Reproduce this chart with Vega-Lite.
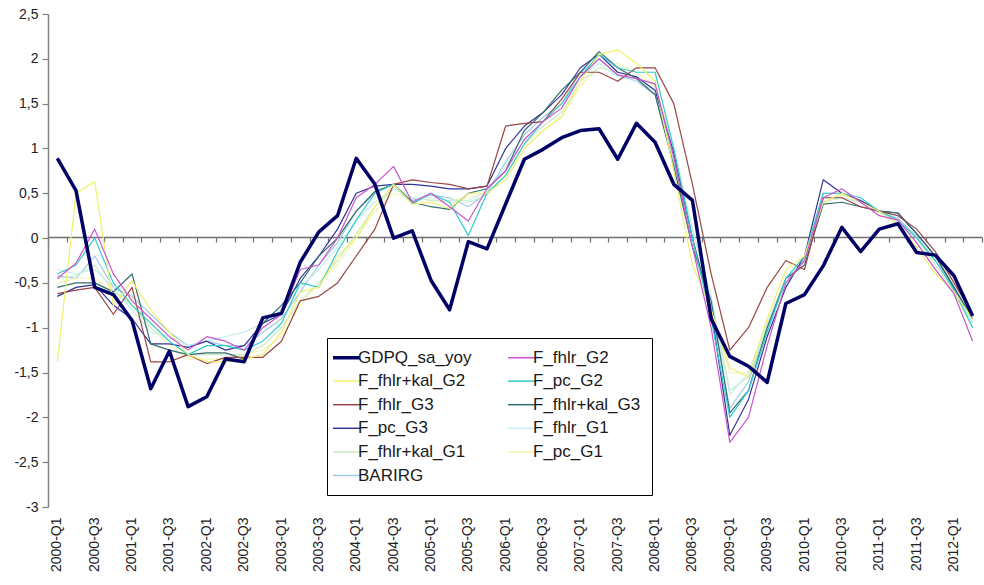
{
  "$schema": "https://vega.github.io/schema/vega-lite/v6.json",
  "width": 934,
  "height": 493,
  "autosize": {"type": "none"},
  "padding": {"left": 48, "top": 14, "right": 2, "bottom": 78},
  "background": "white",
  "config": {
    "view": {"stroke": null},
    "font": "Liberation Sans",
    "axis": {"labelFont": "Liberation Sans", "labelColor": "#222222", "grid": false, "title": null}
  },
  "data": {
    "values": [
      {"q":"2000-Q1","GDPQ_sa_yoy":0.89,"F_fhlr_G2":-0.45,"F_fhlr+kal_G2":-1.38,"F_pc_G2":-0.4,"F_fhlr_G3":-0.62,"F_fhlr+kal_G3":-0.55,"F_pc_G3":-0.65,"F_fhlr_G1":-0.35,"F_fhlr+kal_G1":-0.45,"F_pc_G1":-0.5,"BARIRG":-0.42},
      {"q":"2000-Q2","GDPQ_sa_yoy":0.53,"F_fhlr_G2":-0.28,"F_fhlr+kal_G2":0.5,"F_pc_G2":-0.3,"F_fhlr_G3":-0.58,"F_fhlr+kal_G3":-0.5,"F_pc_G3":-0.55,"F_fhlr_G1":-0.4,"F_fhlr+kal_G1":-0.42,"F_pc_G1":-0.45,"BARIRG":-0.45},
      {"q":"2000-Q3","GDPQ_sa_yoy":-0.55,"F_fhlr_G2":0.1,"F_fhlr+kal_G2":0.63,"F_pc_G2":0.0,"F_fhlr_G3":-0.55,"F_fhlr+kal_G3":-0.5,"F_pc_G3":-0.52,"F_fhlr_G1":-0.35,"F_fhlr+kal_G1":-0.3,"F_pc_G1":-0.45,"BARIRG":-0.2},
      {"q":"2000-Q4","GDPQ_sa_yoy":-0.63,"F_fhlr_G2":-0.4,"F_fhlr+kal_G2":-0.75,"F_pc_G2":-0.5,"F_fhlr_G3":-0.85,"F_fhlr+kal_G3":-0.6,"F_pc_G3":-0.75,"F_fhlr_G1":-0.55,"F_fhlr+kal_G1":-0.6,"F_pc_G1":-0.6,"BARIRG":-0.55},
      {"q":"2001-Q1","GDPQ_sa_yoy":-0.92,"F_fhlr_G2":-0.7,"F_fhlr+kal_G2":-0.48,"F_pc_G2":-0.75,"F_fhlr_G3":-0.55,"F_fhlr+kal_G3":-0.4,"F_pc_G3":-0.9,"F_fhlr_G1":-0.8,"F_fhlr+kal_G1":-0.75,"F_pc_G1":-0.7,"BARIRG":-0.65},
      {"q":"2001-Q2","GDPQ_sa_yoy":-1.68,"F_fhlr_G2":-0.9,"F_fhlr+kal_G2":-0.8,"F_pc_G2":-0.95,"F_fhlr_G3":-1.38,"F_fhlr+kal_G3":-1.18,"F_pc_G3":-1.18,"F_fhlr_G1":-1.05,"F_fhlr+kal_G1":-1.0,"F_pc_G1":-1.0,"BARIRG":-0.85},
      {"q":"2001-Q3","GDPQ_sa_yoy":-1.26,"F_fhlr_G2":-1.1,"F_fhlr+kal_G2":-1.05,"F_pc_G2":-1.15,"F_fhlr_G3":-1.38,"F_fhlr+kal_G3":-1.25,"F_pc_G3":-1.18,"F_fhlr_G1":-1.1,"F_fhlr+kal_G1":-1.15,"F_pc_G1":-1.2,"BARIRG":-1.05},
      {"q":"2001-Q4","GDPQ_sa_yoy":-1.88,"F_fhlr_G2":-1.25,"F_fhlr+kal_G2":-1.3,"F_pc_G2":-1.3,"F_fhlr_G3":-1.3,"F_fhlr+kal_G3":-1.3,"F_pc_G3":-1.22,"F_fhlr_G1":-1.2,"F_fhlr+kal_G1":-1.3,"F_pc_G1":-1.35,"BARIRG":-1.2},
      {"q":"2002-Q1","GDPQ_sa_yoy":-1.77,"F_fhlr_G2":-1.1,"F_fhlr+kal_G2":-1.38,"F_pc_G2":-1.2,"F_fhlr_G3":-1.4,"F_fhlr+kal_G3":-1.28,"F_pc_G3":-1.15,"F_fhlr_G1":-1.15,"F_fhlr+kal_G1":-1.3,"F_pc_G1":-1.35,"BARIRG":-1.15},
      {"q":"2002-Q2","GDPQ_sa_yoy":-1.35,"F_fhlr_G2":-1.15,"F_fhlr+kal_G2":-1.38,"F_pc_G2":-1.2,"F_fhlr_G3":-1.33,"F_fhlr+kal_G3":-1.28,"F_pc_G3":-1.25,"F_fhlr_G1":-1.1,"F_fhlr+kal_G1":-1.3,"F_pc_G1":-1.35,"BARIRG":-1.2},
      {"q":"2002-Q3","GDPQ_sa_yoy":-1.38,"F_fhlr_G2":-1.25,"F_fhlr+kal_G2":-1.35,"F_pc_G2":-1.25,"F_fhlr_G3":-1.33,"F_fhlr+kal_G3":-1.35,"F_pc_G3":-1.2,"F_fhlr_G1":-1.05,"F_fhlr+kal_G1":-1.3,"F_pc_G1":-1.3,"BARIRG":-1.2},
      {"q":"2002-Q4","GDPQ_sa_yoy":-0.89,"F_fhlr_G2":-1.0,"F_fhlr+kal_G2":-1.3,"F_pc_G2":-1.15,"F_fhlr_G3":-1.33,"F_fhlr+kal_G3":-0.95,"F_pc_G3":-0.95,"F_fhlr_G1":-0.95,"F_fhlr+kal_G1":-1.2,"F_pc_G1":-1.25,"BARIRG":-1.05},
      {"q":"2003-Q1","GDPQ_sa_yoy":-0.84,"F_fhlr_G2":-0.85,"F_fhlr+kal_G2":-1.05,"F_pc_G2":-0.95,"F_fhlr_G3":-1.15,"F_fhlr+kal_G3":-0.75,"F_pc_G3":-0.85,"F_fhlr_G1":-0.8,"F_fhlr+kal_G1":-1.0,"F_pc_G1":-1.1,"BARIRG":-0.9},
      {"q":"2003-Q2","GDPQ_sa_yoy":-0.27,"F_fhlr_G2":-0.35,"F_fhlr+kal_G2":-0.6,"F_pc_G2":-0.5,"F_fhlr_G3":-0.7,"F_fhlr+kal_G3":-0.5,"F_pc_G3":-0.45,"F_fhlr_G1":-0.55,"F_fhlr+kal_G1":-0.7,"F_pc_G1":-0.75,"BARIRG":-0.6},
      {"q":"2003-Q3","GDPQ_sa_yoy":0.07,"F_fhlr_G2":-0.3,"F_fhlr+kal_G2":-0.55,"F_pc_G2":-0.55,"F_fhlr_G3":-0.65,"F_fhlr+kal_G3":-0.2,"F_pc_G3":-0.2,"F_fhlr_G1":-0.35,"F_fhlr+kal_G1":-0.5,"F_pc_G1":-0.5,"BARIRG":-0.3},
      {"q":"2003-Q4","GDPQ_sa_yoy":0.25,"F_fhlr_G2":0.0,"F_fhlr+kal_G2":-0.2,"F_pc_G2":-0.15,"F_fhlr_G3":-0.5,"F_fhlr+kal_G3":0.0,"F_pc_G3":0.1,"F_fhlr_G1":-0.1,"F_fhlr+kal_G1":-0.25,"F_pc_G1":-0.3,"BARIRG":-0.05},
      {"q":"2004-Q1","GDPQ_sa_yoy":0.89,"F_fhlr_G2":0.45,"F_fhlr+kal_G2":0.0,"F_pc_G2":0.2,"F_fhlr_G3":-0.2,"F_fhlr+kal_G3":0.3,"F_pc_G3":0.5,"F_fhlr_G1":0.2,"F_fhlr+kal_G1":0.05,"F_pc_G1":0.0,"BARIRG":0.3},
      {"q":"2004-Q2","GDPQ_sa_yoy":0.6,"F_fhlr_G2":0.6,"F_fhlr+kal_G2":0.35,"F_pc_G2":0.5,"F_fhlr_G3":0.1,"F_fhlr+kal_G3":0.52,"F_pc_G3":0.58,"F_fhlr_G1":0.4,"F_fhlr+kal_G1":0.35,"F_pc_G1":0.3,"BARIRG":0.5},
      {"q":"2004-Q3","GDPQ_sa_yoy":0.0,"F_fhlr_G2":0.8,"F_fhlr+kal_G2":0.6,"F_pc_G2":0.6,"F_fhlr_G3":0.6,"F_fhlr+kal_G3":0.6,"F_pc_G3":0.6,"F_fhlr_G1":0.55,"F_fhlr+kal_G1":0.55,"F_pc_G1":0.5,"BARIRG":0.6},
      {"q":"2004-Q4","GDPQ_sa_yoy":0.08,"F_fhlr_G2":0.4,"F_fhlr+kal_G2":0.38,"F_pc_G2":0.38,"F_fhlr_G3":0.65,"F_fhlr+kal_G3":0.4,"F_pc_G3":0.6,"F_fhlr_G1":0.45,"F_fhlr+kal_G1":0.45,"F_pc_G1":0.45,"BARIRG":0.42},
      {"q":"2005-Q1","GDPQ_sa_yoy":-0.47,"F_fhlr_G2":0.5,"F_fhlr+kal_G2":0.4,"F_pc_G2":0.5,"F_fhlr_G3":0.62,"F_fhlr+kal_G3":0.35,"F_pc_G3":0.58,"F_fhlr_G1":0.45,"F_fhlr+kal_G1":0.42,"F_pc_G1":0.42,"BARIRG":0.48},
      {"q":"2005-Q2","GDPQ_sa_yoy":-0.8,"F_fhlr_G2":0.35,"F_fhlr+kal_G2":0.33,"F_pc_G2":0.4,"F_fhlr_G3":0.6,"F_fhlr+kal_G3":0.32,"F_pc_G3":0.55,"F_fhlr_G1":0.42,"F_fhlr+kal_G1":0.4,"F_pc_G1":0.42,"BARIRG":0.45},
      {"q":"2005-Q3","GDPQ_sa_yoy":-0.04,"F_fhlr_G2":0.19,"F_fhlr+kal_G2":0.5,"F_pc_G2":0.03,"F_fhlr_G3":0.55,"F_fhlr+kal_G3":0.5,"F_pc_G3":0.55,"F_fhlr_G1":0.42,"F_fhlr+kal_G1":0.4,"F_pc_G1":0.45,"BARIRG":0.35},
      {"q":"2005-Q4","GDPQ_sa_yoy":-0.12,"F_fhlr_G2":0.55,"F_fhlr+kal_G2":0.5,"F_pc_G2":0.5,"F_fhlr_G3":0.58,"F_fhlr+kal_G3":0.55,"F_pc_G3":0.58,"F_fhlr_G1":0.52,"F_fhlr+kal_G1":0.48,"F_pc_G1":0.5,"BARIRG":0.5},
      {"q":"2006-Q1","GDPQ_sa_yoy":0.38,"F_fhlr_G2":0.75,"F_fhlr+kal_G2":0.65,"F_pc_G2":0.7,"F_fhlr_G3":1.25,"F_fhlr+kal_G3":0.75,"F_pc_G3":1.0,"F_fhlr_G1":0.8,"F_fhlr+kal_G1":0.7,"F_pc_G1":0.7,"BARIRG":0.85},
      {"q":"2006-Q2","GDPQ_sa_yoy":0.88,"F_fhlr_G2":1.1,"F_fhlr+kal_G2":1.0,"F_pc_G2":1.05,"F_fhlr_G3":1.28,"F_fhlr+kal_G3":1.2,"F_pc_G3":1.25,"F_fhlr_G1":1.1,"F_fhlr+kal_G1":1.05,"F_pc_G1":1.0,"BARIRG":1.15},
      {"q":"2006-Q3","GDPQ_sa_yoy":0.99,"F_fhlr_G2":1.3,"F_fhlr+kal_G2":1.2,"F_pc_G2":1.3,"F_fhlr_G3":1.3,"F_fhlr+kal_G3":1.4,"F_pc_G3":1.4,"F_fhlr_G1":1.3,"F_fhlr+kal_G1":1.25,"F_pc_G1":1.2,"BARIRG":1.35},
      {"q":"2006-Q4","GDPQ_sa_yoy":1.12,"F_fhlr_G2":1.45,"F_fhlr+kal_G2":1.35,"F_pc_G2":1.5,"F_fhlr_G3":1.55,"F_fhlr+kal_G3":1.65,"F_pc_G3":1.6,"F_fhlr_G1":1.5,"F_fhlr+kal_G1":1.4,"F_pc_G1":1.35,"BARIRG":1.5},
      {"q":"2007-Q1","GDPQ_sa_yoy":1.2,"F_fhlr_G2":1.8,"F_fhlr+kal_G2":1.75,"F_pc_G2":1.8,"F_fhlr_G3":1.85,"F_fhlr+kal_G3":1.85,"F_pc_G3":1.9,"F_fhlr_G1":1.8,"F_fhlr+kal_G1":1.75,"F_pc_G1":1.7,"BARIRG":1.85},
      {"q":"2007-Q2","GDPQ_sa_yoy":1.22,"F_fhlr_G2":2.0,"F_fhlr+kal_G2":2.05,"F_pc_G2":2.05,"F_fhlr_G3":1.85,"F_fhlr+kal_G3":2.08,"F_pc_G3":2.05,"F_fhlr_G1":1.95,"F_fhlr+kal_G1":1.9,"F_pc_G1":1.9,"BARIRG":2.0},
      {"q":"2007-Q3","GDPQ_sa_yoy":0.88,"F_fhlr_G2":1.82,"F_fhlr+kal_G2":2.1,"F_pc_G2":1.9,"F_fhlr_G3":1.75,"F_fhlr+kal_G3":1.9,"F_pc_G3":1.85,"F_fhlr_G1":1.8,"F_fhlr+kal_G1":1.85,"F_pc_G1":1.95,"BARIRG":1.82},
      {"q":"2007-Q4","GDPQ_sa_yoy":1.28,"F_fhlr_G2":1.78,"F_fhlr+kal_G2":1.95,"F_pc_G2":1.85,"F_fhlr_G3":1.9,"F_fhlr+kal_G3":1.78,"F_pc_G3":1.8,"F_fhlr_G1":1.75,"F_fhlr+kal_G1":1.8,"F_pc_G1":1.85,"BARIRG":1.75},
      {"q":"2008-Q1","GDPQ_sa_yoy":1.07,"F_fhlr_G2":1.72,"F_fhlr+kal_G2":1.75,"F_pc_G2":1.85,"F_fhlr_G3":1.9,"F_fhlr+kal_G3":1.6,"F_pc_G3":1.65,"F_fhlr_G1":1.65,"F_fhlr+kal_G1":1.7,"F_pc_G1":1.7,"BARIRG":1.6},
      {"q":"2008-Q2","GDPQ_sa_yoy":0.6,"F_fhlr_G2":0.9,"F_fhlr+kal_G2":0.75,"F_pc_G2":1.0,"F_fhlr_G3":1.5,"F_fhlr+kal_G3":0.8,"F_pc_G3":0.95,"F_fhlr_G1":0.9,"F_fhlr+kal_G1":1.0,"F_pc_G1":0.8,"BARIRG":0.85},
      {"q":"2008-Q3","GDPQ_sa_yoy":0.42,"F_fhlr_G2":-0.1,"F_fhlr+kal_G2":-0.3,"F_pc_G2":0.0,"F_fhlr_G3":0.6,"F_fhlr+kal_G3":-0.1,"F_pc_G3":0.0,"F_fhlr_G1":0.1,"F_fhlr+kal_G1":0.1,"F_pc_G1":-0.1,"BARIRG":0.0},
      {"q":"2008-Q4","GDPQ_sa_yoy":-0.9,"F_fhlr_G2":-1.0,"F_fhlr+kal_G2":-0.8,"F_pc_G2":-0.9,"F_fhlr_G3":-0.4,"F_fhlr+kal_G3":-0.7,"F_pc_G3":-0.8,"F_fhlr_G1":-0.7,"F_fhlr+kal_G1":-0.65,"F_pc_G1":-0.8,"BARIRG":-0.8},
      {"q":"2009-Q1","GDPQ_sa_yoy":-1.32,"F_fhlr_G2":-2.28,"F_fhlr+kal_G2":-1.45,"F_pc_G2":-2.0,"F_fhlr_G3":-1.25,"F_fhlr+kal_G3":-1.95,"F_pc_G3":-2.2,"F_fhlr_G1":-1.75,"F_fhlr+kal_G1":-1.7,"F_pc_G1":-1.5,"BARIRG":-1.9},
      {"q":"2009-Q2","GDPQ_sa_yoy":-1.43,"F_fhlr_G2":-2.0,"F_fhlr+kal_G2":-1.55,"F_pc_G2":-1.7,"F_fhlr_G3":-1.0,"F_fhlr+kal_G3":-1.7,"F_pc_G3":-1.8,"F_fhlr_G1":-1.5,"F_fhlr+kal_G1":-1.55,"F_pc_G1":-1.5,"BARIRG":-1.6},
      {"q":"2009-Q3","GDPQ_sa_yoy":-1.61,"F_fhlr_G2":-1.2,"F_fhlr+kal_G2":-0.9,"F_pc_G2":-1.05,"F_fhlr_G3":-0.55,"F_fhlr+kal_G3":-1.0,"F_pc_G3":-1.1,"F_fhlr_G1":-0.95,"F_fhlr+kal_G1":-1.0,"F_pc_G1":-0.95,"BARIRG":-1.0},
      {"q":"2009-Q4","GDPQ_sa_yoy":-0.73,"F_fhlr_G2":-0.5,"F_fhlr+kal_G2":-0.35,"F_pc_G2":-0.45,"F_fhlr_G3":-0.25,"F_fhlr+kal_G3":-0.45,"F_pc_G3":-0.55,"F_fhlr_G1":-0.45,"F_fhlr+kal_G1":-0.5,"F_pc_G1":-0.45,"BARIRG":-0.5},
      {"q":"2010-Q1","GDPQ_sa_yoy":-0.63,"F_fhlr_G2":-0.25,"F_fhlr+kal_G2":-0.2,"F_pc_G2":-0.2,"F_fhlr_G3":-0.35,"F_fhlr+kal_G3":-0.3,"F_pc_G3":-0.2,"F_fhlr_G1":-0.25,"F_fhlr+kal_G1":-0.25,"F_pc_G1":-0.3,"BARIRG":-0.25},
      {"q":"2010-Q2","GDPQ_sa_yoy":-0.31,"F_fhlr_G2":0.45,"F_fhlr+kal_G2":0.4,"F_pc_G2":0.5,"F_fhlr_G3":0.45,"F_fhlr+kal_G3":0.38,"F_pc_G3":0.65,"F_fhlr_G1":0.45,"F_fhlr+kal_G1":0.4,"F_pc_G1":0.4,"BARIRG":0.5},
      {"q":"2010-Q3","GDPQ_sa_yoy":0.12,"F_fhlr_G2":0.55,"F_fhlr+kal_G2":0.5,"F_pc_G2":0.5,"F_fhlr_G3":0.45,"F_fhlr+kal_G3":0.4,"F_pc_G3":0.5,"F_fhlr_G1":0.45,"F_fhlr+kal_G1":0.45,"F_pc_G1":0.48,"BARIRG":0.5},
      {"q":"2010-Q4","GDPQ_sa_yoy":-0.15,"F_fhlr_G2":0.4,"F_fhlr+kal_G2":0.4,"F_pc_G2":0.45,"F_fhlr_G3":0.35,"F_fhlr+kal_G3":0.35,"F_pc_G3":0.42,"F_fhlr_G1":0.4,"F_fhlr+kal_G1":0.4,"F_pc_G1":0.42,"BARIRG":0.42},
      {"q":"2011-Q1","GDPQ_sa_yoy":0.1,"F_fhlr_G2":0.25,"F_fhlr+kal_G2":0.3,"F_pc_G2":0.3,"F_fhlr_G3":0.3,"F_fhlr+kal_G3":0.3,"F_pc_G3":0.3,"F_fhlr_G1":0.3,"F_fhlr+kal_G1":0.28,"F_pc_G1":0.3,"BARIRG":0.3},
      {"q":"2011-Q2","GDPQ_sa_yoy":0.16,"F_fhlr_G2":0.2,"F_fhlr+kal_G2":0.15,"F_pc_G2":0.2,"F_fhlr_G3":0.25,"F_fhlr+kal_G3":0.28,"F_pc_G3":0.28,"F_fhlr_G1":0.2,"F_fhlr+kal_G1":0.2,"F_pc_G1":0.18,"BARIRG":0.22},
      {"q":"2011-Q3","GDPQ_sa_yoy":-0.16,"F_fhlr_G2":-0.05,"F_fhlr+kal_G2":-0.1,"F_pc_G2":0.0,"F_fhlr_G3":0.1,"F_fhlr+kal_G3":0.05,"F_pc_G3":0.05,"F_fhlr_G1":0.0,"F_fhlr+kal_G1":0.0,"F_pc_G1":-0.05,"BARIRG":0.02},
      {"q":"2011-Q4","GDPQ_sa_yoy":-0.19,"F_fhlr_G2":-0.35,"F_fhlr+kal_G2":-0.4,"F_pc_G2":-0.25,"F_fhlr_G3":-0.15,"F_fhlr+kal_G3":-0.2,"F_pc_G3":-0.2,"F_fhlr_G1":-0.25,"F_fhlr+kal_G1":-0.3,"F_pc_G1":-0.35,"BARIRG":-0.25},
      {"q":"2012-Q1","GDPQ_sa_yoy":-0.42,"F_fhlr_G2":-0.62,"F_fhlr+kal_G2":-0.6,"F_pc_G2":-0.58,"F_fhlr_G3":-0.5,"F_fhlr+kal_G3":-0.55,"F_pc_G3":-0.55,"F_fhlr_G1":-0.55,"F_fhlr+kal_G1":-0.6,"F_pc_G1":-0.62,"BARIRG":-0.55},
      {"q":"2012-Q2","GDPQ_sa_yoy":-0.87,"F_fhlr_G2":-1.15,"F_fhlr+kal_G2":-0.9,"F_pc_G2":-1.0,"F_fhlr_G3":-0.85,"F_fhlr+kal_G3":-0.9,"F_pc_G3":-0.9,"F_fhlr_G1":-0.95,"F_fhlr+kal_G1":-0.95,"F_pc_G1":-1.0,"BARIRG":-0.95}
    ]
  },
  "transform": [
    {"fold": ["BARIRG","F_pc_G1","F_fhlr+kal_G1","F_fhlr_G1","F_pc_G3","F_fhlr+kal_G3","F_fhlr_G3","F_pc_G2","F_fhlr+kal_G2","F_fhlr_G2","GDPQ_sa_yoy"], "as": ["s","v"]}
  ],
  "encoding": {
    "y": {
      "field": "v", "type": "quantitative",
      "scale": {"domain": [-3, 2.5], "nice": false, "zero": false},
      "axis": {
        "values": [-3,-2.5,-2,-1.5,-1,-0.5,0,0.5,1,1.5,2,2.5],
        "labelExpr": "replace(toString(datum.value), '.', ',')",
        "labelFontSize": 14, "labelPadding": 4,
        "domainColor": "#808080", "domainWidth": 1.5,
        "tickColor": "#808080", "tickSize": 6, "tickWidth": 1.2
      }
    }
  },
  "layer": [
    {
      "mark": {"type": "line", "strokeJoin": "round"},
      "encoding": {
        "x": {
          "field": "q", "type": "nominal", "sort": null,
          "scale": {"paddingInner": 0, "paddingOuter": 0},
          "axis": {
            "orient": "bottom",
            "values": ["2000-Q1","2000-Q3","2001-Q1","2001-Q3","2002-Q1","2002-Q3","2003-Q1","2003-Q3","2004-Q1","2004-Q3","2005-Q1","2005-Q3","2006-Q1","2006-Q3","2007-Q1","2007-Q3","2008-Q1","2008-Q3","2009-Q1","2009-Q3","2010-Q1","2010-Q3","2011-Q1","2011-Q3","2012-Q1"],
            "labelAngle": 270, "labelFontSize": 14, "labelPadding": 10,
            "domain": false, "ticks": false
          }
        },
        "color": {
          "field": "s", "type": "nominal",
          "scale": {
            "domain": ["GDPQ_sa_yoy","F_fhlr+kal_G2","F_fhlr_G3","F_pc_G3","F_fhlr+kal_G1","BARIRG","F_fhlr_G2","F_pc_G2","F_fhlr+kal_G3","F_fhlr_G1","F_pc_G1"],
            "range": ["#000066","#f0f070","#994444","#333399","#cdebc8","#9fcbe6","#cc55cc","#33cccc","#336e6e","#c4eeee","#f4f4b4"]
          },
          "legend": {
            "title": null, "orient": "none", "legendX": 279, "legendY": 324,
            "columns": 2, "columnPadding": 33, "rowPadding": 5.6,
            "padding": 11, "strokeColor": "#000000", "fillColor": "#ffffff",
            "symbolType": "stroke", "symbolSize": 729,
            "labelFontSize": 17, "labelColor": "#1a1a1a", "labelFont": "Liberation Sans",
            "labelOffset": 3, "labelLimit": 200,
            "encode": {
              "symbols": {"update": {"strokeWidth": {"signal": "datum.value === 'GDPQ_sa_yoy' ? 3.5 : 1.5"}}}
            }
          }
        },
        "strokeWidth": {
          "condition": {"test": "datum.s === 'GDPQ_sa_yoy'", "value": 3.5},
          "value": 1.2
        }
      }
    },
    {
      "transform": [{"filter": "datum.s == 'GDPQ_sa_yoy'"}],
      "mark": {"type": "line", "opacity": 0},
      "encoding": {
        "x": {
          "field": "q", "type": "nominal", "sort": null,
          "axis": {
            "orient": "top", "offset": -223, "labels": false,
            "domain": true, "domainColor": "#707070", "domainWidth": 1.5,
            "ticks": true, "tickBand": "extent", "tickColor": "#707070",
            "tickSize": -5, "tickWidth": 1.2
          }
        }
      }
    }
  ],
  "resolve": {"axis": {"x": "independent"}}
}
